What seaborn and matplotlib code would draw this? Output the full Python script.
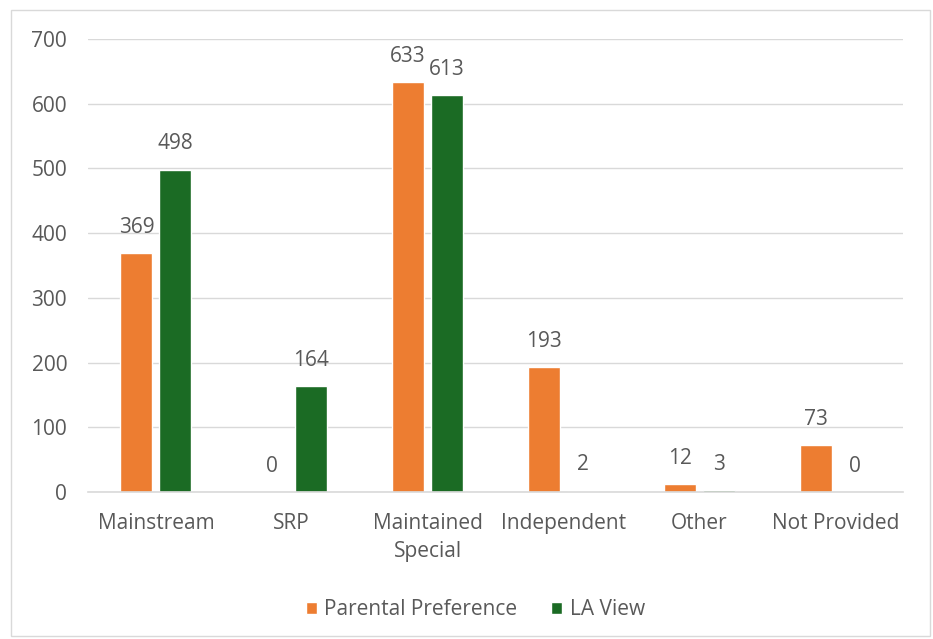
import pandas as pd
import seaborn as sns
import matplotlib.pyplot as plt
from matplotlib.patches import Rectangle

# Chart data
categories = ['Mainstream', 'SRP', 'Maintained\nSpecial', 'Independent', 'Other', 'Not Provided']
parental_preference = [369, 0, 633, 193, 12, 73]
la_view = [498, 164, 613, 2, 3, 0]
series_names = ['Parental Preference', 'LA View']
y_ticks = [0, 100, 200, 300, 400, 500, 600, 700]

colours = ['#ED7D31', '#1B6B24']
text_grey = '#595959'

df = pd.DataFrame({
    'Category': categories * 2,
    'Series': [series_names[0]] * len(categories) + [series_names[1]] * len(categories),
    'Value': parental_preference + la_view,
})

sns.set_style('white')
plt.rcParams['font.family'] = ['Open Sans', 'DejaVu Sans']

fig = plt.figure(figsize=(9.33, 6.39), dpi=100)
ax = fig.add_axes([0.0943, 0.230, 0.8737, 0.709])

sns.barplot(data=df, x='Category', y='Value', hue='Series', palette=colours,
            width=0.575, gap=0.18, saturation=1, ax=ax, legend=True)

# Data labels
for container in ax.containers:
    ax.bar_label(container, padding=11, fontsize=15, color=text_grey)

ax.set_ylim(0, 700)
ax.set_xlim(-0.5, len(categories) - 0.5)
ax.set_yticks(y_ticks)
ax.yaxis.grid(True, color='#D9D9D9', linewidth=1)
ax.set_axisbelow(True)
for side in ['top', 'right', 'left']:
    ax.spines[side].set_visible(False)
ax.spines['bottom'].set_color('#D9D9D9')
ax.spines['bottom'].set_linewidth(1.2)
ax.tick_params(axis='both', length=0, labelsize=15, labelcolor=text_grey)
ax.tick_params(axis='y', pad=15)
ax.tick_params(axis='x', pad=15)
for lab in ax.get_xticklabels():
    lab.set_linespacing(1.45)
ax.set_xlabel('')
ax.set_ylabel('')

ax.legend(loc='center', bbox_to_anchor=(0.475, -0.26), ncol=2, frameon=False,
          fontsize=15, labelcolor=text_grey, handlelength=0.55, handleheight=0.55,
          handletextpad=0.35, columnspacing=1.6)

# Chart border
fig.patches.append(Rectangle((11 / 933, 3 / 639), 919 / 933, 626 / 639,
                             transform=fig.transFigure, fill=False,
                             edgecolor='#D9D9D9', linewidth=1))

plt.savefig('out.png', dpi=100)
